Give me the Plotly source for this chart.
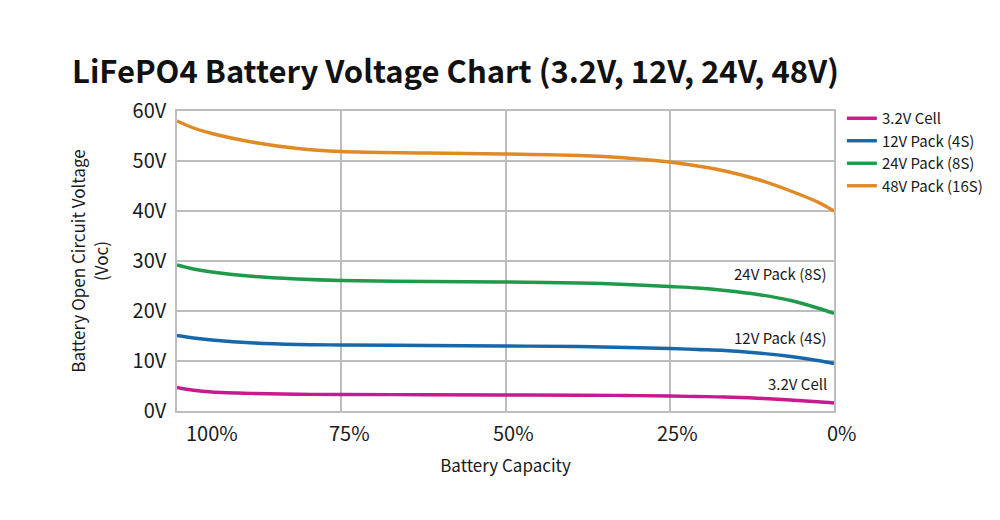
import plotly.graph_objects as go

capacity = [100, 97.5, 94.7, 88.2, 81.6, 75, 61.8, 50, 38.8, 31.6, 25, 20.8, 16.6, 11.6, 6.6, 2.5, 0]
v_cell = [4.7, 4.15, 3.8, 3.5, 3.35, 3.3, 3.25, 3.2, 3.15, 3.1, 3.0, 2.9, 2.8, 2.55, 2.2, 1.85, 1.6]
v_12 = [15.1, 14.6, 14.2, 13.6, 13.3, 13.2, 13.1, 13.0, 12.9, 12.7, 12.5, 12.3, 12.1, 11.6, 10.9, 10.1, 9.5]
v_24 = [29.2, 28.4, 27.8, 26.9, 26.4, 26.1, 25.9, 25.8, 25.6, 25.3, 24.9, 24.6, 24.1, 23.3, 22.1, 20.6, 19.5]
v_48 = [58.0, 56.6, 55.5, 53.7, 52.5, 51.9, 51.6, 51.4, 51.1, 50.6, 49.8, 49.0, 48.0, 46.3, 44.0, 41.8, 40.0]

series_names = ["3.2V Cell", "12V Pack (4S)", "24V Pack (8S)", "48V Pack (16S)"]
series_values = [v_cell, v_12, v_24, v_48]
colors = ["#c8198f", "#1767ab", "#1f9a4a", "#e08a25"]

x_ticks = [100, 75, 50, 25, 0]
x_tick_labels = ["100%", "75%", "50%", "25%", "0%"]
y_ticks = [0, 10, 20, 30, 40, 50, 60]
y_tick_labels = ["0V", "10V", "20V", "30V", "40V", "50V", "60V"]

inline_labels = ["3.2V Cell", "12V Pack (4S)", "24V Pack (8S)"]
inline_label_values = [v_cell[-1], v_12[-1], v_24[-1]]
inline_label_shifts = [20, 26, 40]

FONT = "Noto Sans CJK SC, Noto Sans, sans-serif"
GRID = "#bdbdbd"
TXT = "#1a1a1a"

fig = go.Figure()
for name, vals, col in zip(series_names, series_values, colors):
    fig.add_trace(go.Scatter(
        x=capacity, y=vals, mode="lines", name=name,
        line=dict(color=col, width=3.4, shape="spline", smoothing=1.0),
    ))

annotations = []
for i, (tv, tl) in enumerate(zip(x_ticks, x_tick_labels)):
    annotations.append(dict(
        x=tv, y=0, xref="x", yref="paper", text=tl, showarrow=False,
        xanchor="left" if i == 0 else "center", yanchor="middle",
        xshift=7 if i == 0 else 8, yshift=-21,
        font=dict(family=FONT, size=20, color=TXT),
    ))

for txt, v, s in zip(inline_labels, inline_label_values, inline_label_shifts):
    annotations.append(dict(
        x=0, y=v, xref="x", yref="y", text=txt, showarrow=False,
        xanchor="right", yanchor="middle", xshift=-5, yshift=s,
        font=dict(family=FONT, size=15, color=TXT),
    ))

fig.update_layout(
    width=1000, height=520,
    margin=dict(l=177, r=164, t=111, b=109),
    paper_bgcolor="white", plot_bgcolor="white",
    title=dict(
        text="<b>LiFePO4 Battery Voltage Chart (3.2V, 12V, 24V, 48V)</b>",
        x=0.072, xanchor="left", xref="container",
        y=1 - 72 / 520, yanchor="middle", yref="container",
        font=dict(family=FONT, size=31, color="#111111"),
    ),
    xaxis=dict(
        range=[100, 0], tickvals=x_ticks, showticklabels=False,
        showgrid=True, gridcolor=GRID, gridwidth=1.5,
        showline=True, linecolor=GRID, linewidth=1.5, mirror=True,
        zeroline=False, ticks="",
        title=dict(text="Battery Capacity", font=dict(family=FONT, size=17, color=TXT), standoff=48),
    ),
    yaxis=dict(
        range=[0, 60], tickvals=y_ticks, ticktext=y_tick_labels,
        showgrid=True, gridcolor=GRID, gridwidth=1.5,
        showline=True, linecolor=GRID, linewidth=1.5, mirror=True,
        zeroline=False, ticks="", ticklabelstandoff=5,
        tickfont=dict(family=FONT, size=20, color=TXT),
        title=dict(text="Battery Open Circuit Voltage<br>(Voc)", font=dict(family=FONT, size=17, color=TXT), standoff=20),
    ),
    legend=dict(
        x=1.012, y=1.03, xanchor="left", yanchor="top",
        font=dict(family=FONT, size=15, color=TXT),
        itemwidth=30, tracegroupgap=0, bgcolor="rgba(0,0,0,0)",
    ),
    annotations=annotations,
    showlegend=True,
)

fig.write_html("out.html")
